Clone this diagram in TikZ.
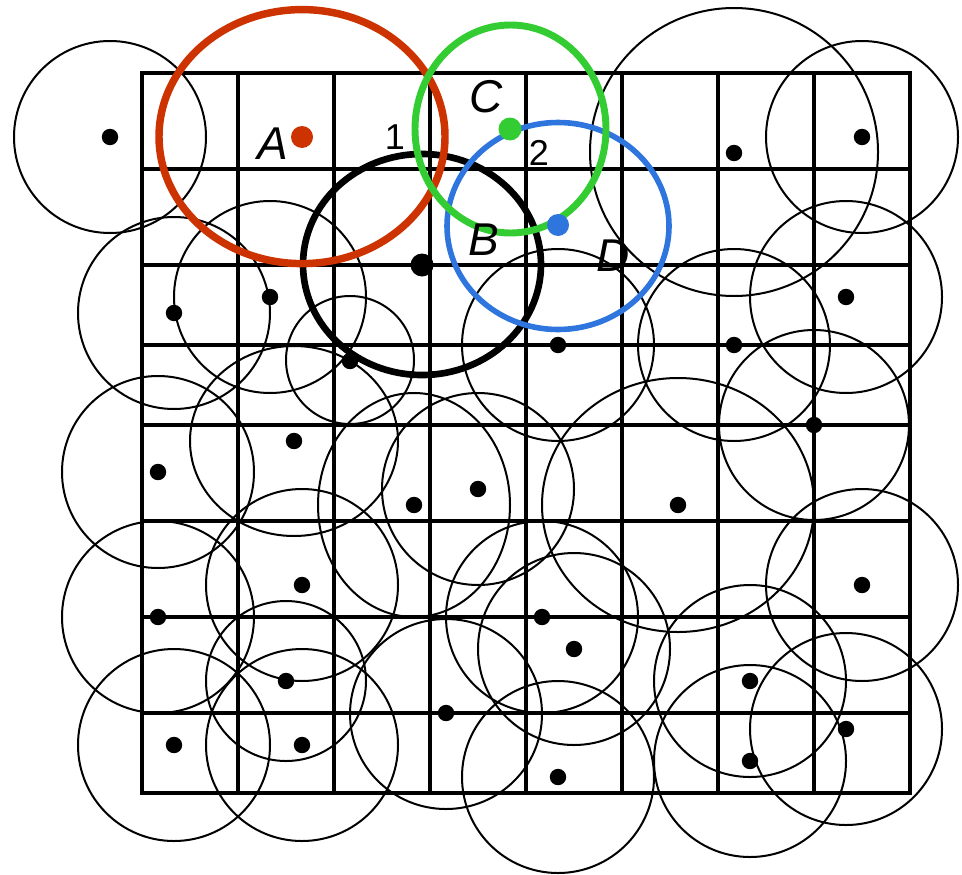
\documentclass[tikz,border=0pt]{standalone}
\usepackage{fontspec}
\setmainfont{Liberation Sans}
\definecolor{cred}{RGB}{204,51,0}
\definecolor{cgreen}{RGB}{51,204,51}
\definecolor{cblue}{RGB}{46,117,222}
\begin{document}
\begin{tikzpicture}[x=0.75pt,y=-0.75pt,
  thincirc/.style={line width=1.5pt},
  gridline/.style={line width=2.3pt},
  bigring/.style={line width=5pt},
  lab/.style={inner sep=0pt, font=\fontsize{34.5}{40}\selectfont\itshape},
  num/.style={inner sep=0pt, font=\fontsize{27}{32}\selectfont}]
\useasboundingbox (0,0) rectangle (962,874);
% thin coverage circles
\foreach \cx/\cy/\rx/\ry in {
  110/137/96/96, 174/313/96/96, 270/297/96/96, 350/360/64/64,
  734/152/144/144, 862/137/96/96, 846/297/96/96, 558/345/96/96,
  734/345/96/96, 814/425/95/95, 294/441/104/95, 158/472/96/96,
  414/505/96/112, 478/489/96/96, 678/505/136/127, 302/585/96/96,
  158/617/96/96, 542/617/96/96, 574/649/96/96, 862/585/96/96,
  286/681/80/80, 446/714/96/95, 750/681/96/96, 846/729/96/96,
  174/745/96/96, 302/745/96/96, 558/777/96/96, 750/761/96/96}
  \draw[thincirc] (\cx,\cy) ellipse [x radius=\rx, y radius=\ry];
% grid
\draw[gridline] (142,73) rectangle (910,793);
\foreach \x in {238,334,430,526,622,718,814}
  \draw[gridline] (\x,73) -- (\x,793);
\foreach \y in {169,265,345,425,521,617,713}
  \draw[gridline] (142,\y) -- (910,\y);
% small dots
\foreach \px/\py in {
  110/137, 734/153, 862/137, 174/313, 270/297, 846/297, 350/361,
  558/345, 734/345, 294/441, 158/472, 414/505, 478/489, 678/505,
  814/425, 302/585, 158/617, 542/617, 574/649, 862/585, 286/681,
  446/713, 750/681, 846/729, 174/745, 302/745, 558/777, 750/761}
  \fill (\px,\py) circle [radius=8.2];
% highlighted ranges
\draw[bigring] (422,264.5) ellipse [x radius=119, y radius=110.5];
\draw[bigring, cred, line width=5.6pt] (302,136.6) ellipse [x radius=143, y radius=127];
\draw[bigring, cblue, line width=4.2pt] (558,226) ellipse [x radius=111, y radius=103.5];
\draw[bigring, cgreen, line width=5.2pt] (510.5,129) ellipse [x radius=95.5, y radius=104];
% highlighted nodes
\fill (422,265) circle [radius=11.5];
\fill[cred] (302,137) circle [radius=11];
\fill[cblue] (558,225) circle [radius=11];
\fill[cgreen] (510,129) circle [radius=11.5];
% labels
\node[lab] (lA) at (273,144) {A};
\node[lab] (lB) at (484,240) {B};
\node[lab] (lC) at (486,97) {C};
\node[lab] (lD) at (613,256) {D};
\node[num] (n1) at (395,137) {1};
\node[num] (n2) at (539,153) {2};
\end{tikzpicture}
\end{document}
